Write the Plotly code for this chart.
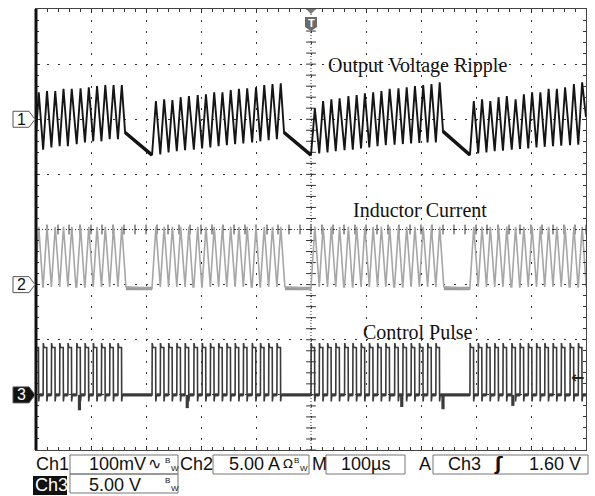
import plotly.graph_objects as go
import numpy as np

# ---------------- scope settings ----------------
US_PER_DIV = 100          # time base
CH1_MV_PER_DIV = 100      # output voltage ripple (AC coupled)
CH2_A_PER_DIV = 5.0       # inductor current
CH3_V_PER_DIV = 5.0       # control pulse
# ground reference of each channel, in divisions from screen centre
CH1_POS, CH2_POS, CH3_POS = 2.0, -1.0, -3.0
TRIG_LEVEL_V = 1.60

# ---------------- captured data ----------------
# rising edges of the control pulses (µs), one list per visible burst
burst_a_us = [-502, -487, -472, -457, -442, -426, -411, -396, -381, -366, -351]
burst_b_us = [-289, -274, -259, -244, -229, -213, -198, -183, -168, -153, -138,
              -123, -107, -92, -77, -62]
burst_c_us = [0, 15, 30, 45, 61, 76, 91, 106, 121, 136, 152, 167, 182, 197, 212, 227]
burst_d_us = [289, 304, 319, 334, 349, 365, 380, 395, 410, 425, 440, 455, 471, 486]

# output ripple: crest and valley of every switching cycle (mV)
ripple_peak_a = [49, 51, 51, 55, 55, 56, 58, 60, 62, 62, 62]
ripple_valley_a = [-58, -55, -51, -49, -49, -45, -42, -40, -40, -36, -36]
ripple_peak_b = [33, 36, 35, 40, 42, 44, 45, 49, 49, 53, 55, 56, 58, 62, 64, 65]
ripple_valley_b = [-65, -64, -60, -58, -56, -55, -53, -51, -49, -47, -45, -44, -42, -40, -38, -36]
ripple_peak_c = [20, 33, 36, 38, 42, 44, 47, 49, 51, 55, 56, 58, 60, 62, 64, 67]
ripple_valley_c = [-65, -62, -60, -58, -56, -55, -53, -51, -49, -47, -46, -45, -44, -43, -42, -42]
ripple_peak_d = [33, 36, 33, 40, 42, 36, 45, 49, 49, 55, 55, 58, 64, 67]
ripple_valley_d = [-65, -62, -60, -58, -57, -55, -54, -53, -51, -50, -49, -48, -47, -46]
# output level when switching stops (start of the sag), mV
sag_start_mv = [-24, -24, -22]
ripple_end_mv = 4

# inductor current levels (A)
il_peak_a = 5.25
il_valley_a = -0.2
il_idle_a = -0.35

# control pulse levels (V)
gate_high_v = 4.3
gate_overshoot_v = 4.7
gate_undershoot_v = -0.6
gate_spike_us = [-421, -225, 165, 240, 367]
gate_spike_v = [-1.4, -1.2, -1.1, -1.3, -1.0]

# switching-cycle timing (µs)
PULSE_W = 6.5        # gate on-time
PEAK_AT = 7.0        # ripple / current crest after turn-on
IL_ZERO_AT = 14.5    # current back to zero
SAG_AT = 13.0        # output starts to sag after last pulse

bursts = [
    (burst_a_us, ripple_peak_a, ripple_valley_a),
    (burst_b_us, ripple_peak_b, ripple_valley_b),
    (burst_c_us, ripple_peak_c, ripple_valley_c),
    (burst_d_us, ripple_peak_d, ripple_valley_d),
]

# ---------------- waveform assembly ----------------
ch1_x, ch1_y, sag_x, sag_y = [], [], [], []
ch2_x, ch2_y, idle_x, idle_y = [], [], [], []
ch3_x, ch3_y, base_x, base_y = [], [], [], []

for i, (ts, pk, vl) in enumerate(bursts):
    for t, p, v in zip(ts, pk, vl):
        ch1_x += [t, t + PEAK_AT]
        ch1_y += [v, p]
        ch2_x += [t, t + PEAK_AT, t + IL_ZERO_AT]
        ch2_y += [il_valley_a, il_peak_a, il_valley_a]
        ch3_x += [t, t + 0.3, t + 1.5, t + PULSE_W, t + PULSE_W + 0.3, t + PULSE_W + 1.5]
        ch3_y += [0, gate_overshoot_v, gate_high_v, gate_high_v, gate_undershoot_v, 0]
    for t0, t1 in zip(ts[:-1], ts[1:]):
        base_x += [t0 + PULSE_W + 1.5, t1, None]
        base_y += [0, 0, None]
    if i < len(bursts) - 1:
        nxt = bursts[i + 1]
        t_sag = ts[-1] + SAG_AT
        ch1_x += [t_sag]
        ch1_y += [sag_start_mv[i]]
        sag_x += [t_sag, nxt[0][0], None]
        sag_y += [sag_start_mv[i], nxt[2][0], None]
        ch2_x += [nxt[0][0]]
        ch2_y += [il_idle_a]
        idle_x += [ts[-1] + IL_ZERO_AT, nxt[0][0], None]
        idle_y += [il_idle_a, il_idle_a, None]
        base_x += [ts[-1] + PULSE_W + 1.5, nxt[0][0], None]
        base_y += [0, 0, None]
    else:
        ch1_x += [500]
        ch1_y += [ripple_end_mv]
        ch2_x += [500]
        ch2_y += [il_valley_a]
        base_x += [ts[-1] + PULSE_W + 1.5, 500, None]
        base_y += [0, 0, None]

for t, v in zip(gate_spike_us, gate_spike_v):
    base_x += [t, t, None]
    base_y += [0, v, None]

# ---------------- figure ----------------
W, H = 595, 496
L, R, T, B = 36, 9, 9, 46
PW, PH = W - L - R, H - T - B


def px(x):
    return (x - L) / PW


def py(y):
    return (H - B - y) / PH


def ch_range(per_div, pos):
    return [(-4 - pos) * per_div, (4 - pos) * per_div]


def label(text, x, y, size, color="#111", family="Liberation Sans, DejaVu Sans",
          xanchor="left"):
    fig.add_annotation(x=px(x), y=py(y), xref="paper", yref="paper", text=text,
                       xanchor=xanchor, yanchor="middle", showarrow=False,
                       borderpad=0, font=dict(family=family, size=size, color=color))


fig = go.Figure()

# crosshair ticks on the centre lines
fig.add_trace(go.Scatter(
    x=np.arange(-500, 501, US_PER_DIV / 5), y=np.zeros(51), mode="markers",
    marker=dict(symbol="line-ns", size=7, line=dict(width=1, color="#333")),
    hoverinfo="skip", xaxis="x", yaxis="y"))
fig.add_trace(go.Scatter(
    x=np.zeros(41), y=np.arange(-4, 4.01, 0.2), mode="markers",
    marker=dict(symbol="line-ew", size=7, line=dict(width=1, color="#333")),
    hoverinfo="skip", xaxis="x", yaxis="y"))

# Ch2: inductor current
fig.add_trace(go.Scatter(x=idle_x, y=idle_y, mode="lines",
                         line=dict(color="#9a9a9a", width=3.5), yaxis="y3", hoverinfo="skip"))
fig.add_trace(go.Scatter(x=ch2_x, y=ch2_y, mode="lines",
                         line=dict(color="#a6a6a6", width=1.6), yaxis="y3", hoverinfo="skip"))
# Ch1: output voltage ripple
fig.add_trace(go.Scatter(x=sag_x, y=sag_y, mode="lines",
                         line=dict(color="#111", width=3.4), yaxis="y2", hoverinfo="skip"))
fig.add_trace(go.Scatter(x=ch1_x, y=ch1_y, mode="lines",
                         line=dict(color="#151515", width=1.9), yaxis="y2", hoverinfo="skip"))
# Ch3: control pulse
fig.add_trace(go.Scatter(x=base_x, y=base_y, mode="lines",
                         line=dict(color="#3a3a3a", width=3.2), yaxis="y4", hoverinfo="skip"))
fig.add_trace(go.Scatter(x=ch3_x, y=ch3_y, mode="lines",
                         line=dict(color="#3a3a3a", width=1.6), yaxis="y4", hoverinfo="skip"))

grid = dict(showgrid=True, gridcolor="#333", gridwidth=1.3, griddash="1.5px,9.5px",
            ticks="inside", ticklen=4, tickcolor="#333", tickwidth=1,
            showticklabels=False, zeroline=False, showline=True, linecolor="#444",
            linewidth=1, mirror="ticks", fixedrange=True)
minor = dict(ticks="inside", ticklen=3, tickcolor="#333", showgrid=False)

fig.update_layout(
    width=W, height=H, margin=dict(l=L, r=R, t=T, b=B),
    paper_bgcolor="white", plot_bgcolor="white", showlegend=False,
    xaxis=dict(range=[-5 * US_PER_DIV, 5 * US_PER_DIV], dtick=US_PER_DIV, tick0=0,
               minor=dict(dtick=US_PER_DIV / 5, **minor), **grid),
    yaxis=dict(range=[-4, 4], dtick=1, tick0=0, minor=dict(dtick=0.2, **minor), **grid),
    yaxis2=dict(range=ch_range(CH1_MV_PER_DIV, CH1_POS), overlaying="y", visible=False, fixedrange=True),
    yaxis3=dict(range=ch_range(CH2_A_PER_DIV, CH2_POS), overlaying="y", visible=False, fixedrange=True),
    yaxis4=dict(range=ch_range(CH3_V_PER_DIV, CH3_POS), overlaying="y", visible=False, fixedrange=True),
)

shapes = []
# dense centre crosshair lines
shapes.append(dict(type="line", xref="x", yref="paper", x0=0, x1=0, y0=0, y1=1,
                   line=dict(color="#333", width=1, dash="1px,2px"), layer="below"))
shapes.append(dict(type="line", xref="paper", yref="y", x0=0, x1=1, y0=0, y1=0,
                   line=dict(color="#333", width=1, dash="1px,2px"), layer="below"))
# heavy left border of the graticule
shapes.append(dict(type="line", xref="paper", yref="paper", x0=0, x1=0, y0=0, y1=1,
                   line=dict(color="#111", width=3)))

# channel ground tags
tags = [("1", CH1_POS, "white", "#111"), ("2", CH2_POS, "white", "#111"), ("3", CH3_POS, "#111", "white")]
for text, pos, fill, txt in tags:
    yc = T + PH / 2 - pos * PH / 8
    path = (f"M{px(13)},{py(yc - 8)} L{px(29)},{py(yc - 8)} L{px(35)},{py(yc)} "
            f"L{px(29)},{py(yc + 8)} L{px(13)},{py(yc + 8)} Z")
    shapes.append(dict(type="path", xref="paper", yref="paper", path=path,
                       fillcolor=fill, line=dict(color="#555", width=1)))
    label(text, 21, yc, 16, color=txt, xanchor="center")

# trigger position marker
shapes.append(dict(type="path", xref="paper", yref="paper",
                   path=f"M{px(306)},{py(9)} L{px(316)},{py(9)} L{px(311)},{py(14)} Z",
                   fillcolor="#777", line=dict(width=0)))
shapes.append(dict(type="path", xref="paper", yref="paper",
                   path=(f"M{px(305)},{py(17)} L{px(317)},{py(17)} L{px(317)},{py(27)} "
                         f"L{px(311)},{py(31)} L{px(305)},{py(27)} Z"),
                   fillcolor="#6a6a6a", line=dict(width=0)))
label("<b>T</b>", 311, 23, 11, color="white", xanchor="center")

# trigger level arrow on Ch3
fig.add_annotation(x=1, y=TRIG_LEVEL_V, xref="paper", yref="y4", text="<b>←</b>",
                   xanchor="right", yanchor="middle", showarrow=False,
                   font=dict(family="DejaVu Sans", size=16, color="#222"))

# waveform captions
for text, x0, yc in [("Output Voltage Ripple", 327, 65),
                     ("Inductor Current", 352, 210),
                     ("Control Pulse", 362, 332)]:
    label(text, x0, yc, 20, family="Liberation Serif")

# status bar boxes
for x0, y0, x1, y1 in [(70, 455, 178, 474), (213, 455, 309, 474), (326, 455, 405, 474),
                       (433, 455, 588, 474), (70, 474, 178, 493)]:
    shapes.append(dict(type="rect", xref="paper", yref="paper",
                       x0=px(x0), x1=px(x1), y0=py(y0), y1=py(y1),
                       line=dict(color="#777", width=1)))
shapes.append(dict(type="rect", xref="paper", yref="paper",
                   x0=px(33), x1=px(67), y0=py(476), y1=py(495),
                   fillcolor="#111", line=dict(width=0)))

# status bar readouts
for text, x0, yc, col in [("Ch1", 35, 464, "#111"), ("100mV", 88, 464, "#111"),
                          ("Ch2", 179, 464, "#111"), ("5.00 A", 228, 464, "#111"),
                          ("M", 311, 464, "#111"), ("A", 418, 464, "#111"),
                          ("Ch3", 447, 464, "#111"), ("1.60 V", 528, 464, "#111"),
                          ("Ch3", 34, 485, "white"), ("5.00 V", 88, 485, "#111")]:
    label(text, x0, yc, 18, color=col)
label("100µs", 365, 464, 18, xanchor="center")
label("∿", 147, 463, 16, family="DejaVu Sans")
label("Ω", 282, 464, 13, family="DejaVu Sans")
label("<b>ʃ</b>", 493, 464, 18, family="DejaVu Sans")
# bandwidth-limit flags: a raised B followed by a lowered W
for x0, yc in [(164, 464), (293, 464), (164, 484)]:
    label("B", x0, yc - 4, 8)
    label("W", x0 + 6, yc + 4, 8)

fig.update_layout(shapes=shapes)
fig.write_html("out.html")
